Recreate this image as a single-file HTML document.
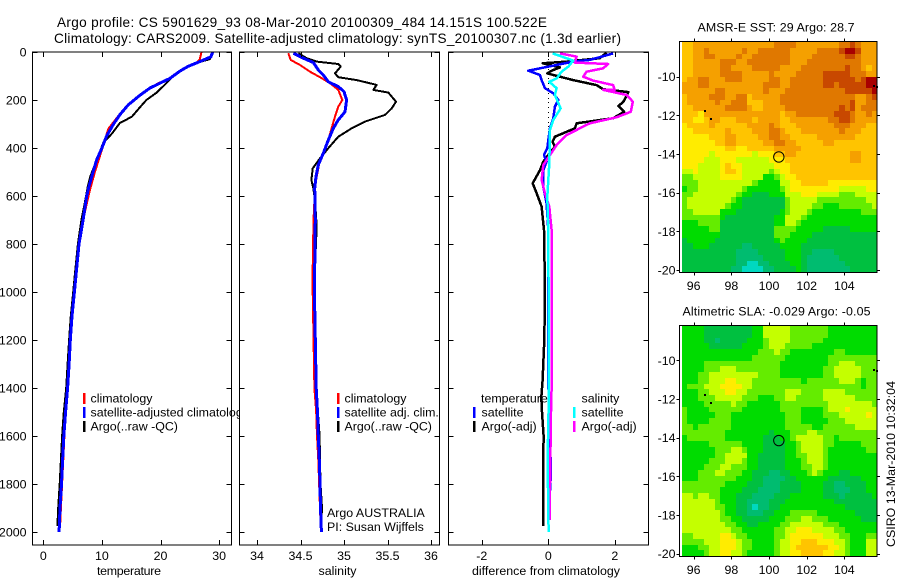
<!DOCTYPE html>
<html>
<head>
<meta charset="utf-8">
<title>Argo profile</title>
<style>
html,body{margin:0;padding:0;background:#fff;width:900px;height:580px;overflow:hidden}
svg{display:block;font-family:"Liberation Sans",sans-serif;fill:#000}
text{font-size:12.4px}
.t{font-size:13.6px}
</style>
</head>
<body>
<svg id="chart" xmlns="http://www.w3.org/2000/svg" width="900" height="580" viewBox="0 0 900 580">
<rect width="900" height="580" fill="#fff"/>
<text class="t" x="57" y="27" textLength="490" lengthAdjust="spacing">Argo profile: CS 5901629_93 08-Mar-2010 20100309_484 14.151S 100.522E</text>
<text class="t" x="54" y="43" textLength="567" lengthAdjust="spacing">Climatology: CARS2009. Satellite-adjusted climatology: synTS_20100307.nc (1.3d earlier)</text>
<g id="layer"></g>
<text x="697.5" y="31.5" textLength="157" lengthAdjust="spacing">AMSR-E SST: 29 Argo: 28.7</text>
<text x="682.5" y="315.5" textLength="188" lengthAdjust="spacing">Altimetric SLA: -0.029 Argo: -0.05</text>
<text transform="translate(895,547) rotate(-90)" textLength="166" lengthAdjust="spacing">CSIRO 13-Mar-2010 10:32:04</text>
</svg>
<script>
// ---- profile data (depth in dbar) ----
const tempTicks = [0, 10, 20, 30];
const salTicks = [34, 34.5, 35, 35.5, 36];
const salTickLabels = ['34', '34.5', '35', '35.5', '36'];
const diffTicks = [-2, 0, 2];
const depthTicks = [0, 200, 400, 600, 800, 1000, 1200, 1400, 1600, 1800, 2000];

const tempClimDepth = [0, 30, 45, 60, 110, 130, 170, 210, 260, 320, 400, 500, 580, 700, 800, 900, 1000, 1200, 1400, 1600, 1800, 1900, 1960];
const tempClimValue = [27, 26.7, 26.2, 24.6, 21.6, 19.6, 17, 15, 13, 11.1, 10.1, 8.8, 7.9, 6.8, 6.1, 5.7, 5.3, 4.6, 4.1, 3.6, 3.2, 3, 2.9];
const tempSatDepth = [0, 20, 40, 60, 80, 110, 130, 150, 180, 220, 260, 300, 350, 400, 450, 500, 560, 600, 700, 800, 900, 1000, 1100, 1200, 1300, 1400, 1500, 1600, 1700, 1800, 1900, 2000];
const tempSatValue = [28.9, 28.6, 26.7, 24.7, 23.3, 21.6, 19.9, 18.2, 16.5, 14.5, 13.1, 12, 10.8, 10, 9.1, 8.5, 7.8, 7.4, 6.8, 6.1, 5.7, 5.3, 4.9, 4.6, 4.4, 4.15, 3.8, 3.5, 3.3, 3.1, 2.85, 2.7];
const tempArgoDepth = [0, 30, 45, 70, 100, 130, 170, 200, 230, 270, 295, 340, 380, 450, 520, 560, 600, 700, 800, 900, 1000, 1100, 1200, 1300, 1400, 1500, 1600, 1700, 1800, 1900, 1975];
const tempArgoValue = [29, 28.4, 26.2, 23.9, 22.2, 21, 19.3, 17.6, 16.5, 15.1, 13.1, 11.7, 10.2, 9.1, 8, 7.6, 7.3, 6.5, 5.9, 5.5, 5.1, 4.7, 4.4, 4.15, 3.9, 3.5, 3.2, 3, 2.8, 2.55, 2.4];

const salClimDepth = [5, 33, 54, 82, 105, 130, 158, 200, 228, 269, 318, 367, 422, 464, 519, 568, 700, 900, 1000, 1400, 1500, 1600, 1700, 1960];
const salClimValue = [34.36, 34.387, 34.494, 34.609, 34.724, 34.839, 34.935, 34.981, 34.935, 34.897, 34.858, 34.82, 34.762, 34.716, 34.686, 34.667, 34.65, 34.64, 34.64, 34.66, 34.68, 34.69, 34.705, 34.73];
const salSatDepth = [5, 26, 44, 75, 96, 124, 144, 165, 200, 249, 283, 318, 367, 422, 471, 519, 568, 700, 1000, 1400, 1500, 1600, 1700, 1800, 1900, 2000];
const salSatValue = [34.418, 34.533, 34.648, 34.705, 34.762, 34.82, 34.935, 35, 35.03, 35.011, 34.935, 34.877, 34.82, 34.762, 34.705, 34.678, 34.663, 34.67, 34.66, 34.68, 34.695, 34.705, 34.716, 34.724, 34.73, 34.74];
const salArgoDepth = [5, 26, 40, 50, 61, 89, 105, 117, 137, 158, 169, 207, 235, 262, 290, 318, 353, 401, 443, 485, 533, 568, 615, 726, 1000, 1400, 1500, 1600, 1700, 1800, 1900, 1950];
const salArgoValue = [34.475, 34.571, 34.686, 34.935, 34.962, 34.897, 34.935, 35.146, 35.376, 35.337, 35.51, 35.598, 35.548, 35.471, 35.241, 35.088, 34.935, 34.82, 34.724, 34.64, 34.625, 34.647, 34.667, 34.686, 34.655, 34.68, 34.7, 34.72, 34.724, 34.73, 34.747, 34.74];

const diffTempArgoDepth = [3, 26, 40, 47, 64, 78, 89, 96, 117, 138, 155, 167, 207, 225, 249, 276, 297, 318, 353, 374, 394, 429, 457, 492, 547, 589, 644, 742, 1000, 1200, 1367, 1440, 1500, 1600, 1700, 1800, 1975];
const diffTempArgoValue = [1.75, 1.55, 0.55, -0.17, 0.35, 0.1, -0.03, 0.15, 0.75, 1.45, 1.65, 2.41, 2.26, 2.11, 2.28, 1.95, 0.85, 0.8, 0.2, 0.13, 0.2, 0, -0.15, -0.25, -0.47, -0.35, -0.2, -0.13, -0.1, -0.12, -0.17, -0.21, -0.19, -0.14, -0.15, -0.15, -0.15];
const diffTempSatDepth = [6, 33, 40, 78, 96, 117, 151, 172, 200, 228, 276, 318, 367, 401, 429, 457, 492, 561, 631, 742, 1367, 1500, 1750, 1960];
const diffTempSatValue = [1.95, 1.25, 0.75, -0.6, -0.25, -0.2, -0.1, 0.15, 0.3, 0.2, 0.15, 0.05, 0, -0.03, -0.13, -0.05, -0.15, -0.15, -0.05, 0, 0, 0.02, 0.08, 0];
const diffSalSatDepth = [6, 36, 61, 82, 110, 124, 151, 179, 235, 283, 325, 464, 603, 742, 1400, 1700, 1900, 2000];
const diffSalSatValue = [0.13, 0.75, 0.6, 0.4, 0.25, 0.03, 0.25, 0.2, 0.37, 0.15, 0.05, 0.03, -0.03, 0, 0.02, -0.02, 0, 0.01];
const diffSalArgoDepth = [6, 19, 44, 50, 68, 82, 103, 119, 138, 158, 158, 179, 207, 249, 272, 297, 311, 346, 388, 429, 471, 533, 589, 644, 742, 1000, 1400, 1500, 1800, 1950];
const diffSalArgoValue = [0.35, 0.85, 0.8, 1.8, 1.65, 1.15, 1.05, 1.35, 1.95, 2, 1.65, 2.36, 2.54, 2.48, 2.05, 1.25, 1.05, 0.55, 0.25, 0.05, -0.15, -0.2, -0.1, 0.03, 0.1, 0.1, 0.1, 0.08, 0.05, 0.05];
const zeroDotDepths = [10, 30, 50, 70, 90, 110, 130, 150, 170, 190, 210, 230, 250, 270, 290, 310, 330, 350, 2030];

// ---- map data (colour-scale levels 0..11) ----
const mapLonTicks = [96, 98, 100, 102, 104];
const mapLatTicks = [10, 12, 14, 16, 18, 20];
const sstLevels = [
[7,7,8,8,8,8,8,8,8,8,8,8,8,8,8,8,8,9,9,9,9,8,8,8,8,8,8,8,8,9,9,10,9,8,8,8],
[7,7,8,8,9,8,8,8,8,8,8,9,8,8,9,9,9,9,9,9,8,8,8,8,8,9,9,9,9,10,11,11,10,8,8,8],
[7,7,8,8,9,9,8,8,8,8,9,8,8,9,9,9,9,9,9,9,8,8,8,8,9,9,9,9,9,9,10,10,9,8,8,8],
[7,7,8,8,8,8,8,9,9,9,8,8,9,9,9,9,9,9,9,9,8,8,8,9,9,9,9,9,9,9,9,9,9,8,8,8],
[7,7,8,8,8,8,8,9,9,8,8,8,8,9,9,9,9,9,8,8,8,8,9,9,9,9,9,9,9,9,10,9,9,8,7,8],
[7,7,8,8,8,8,8,9,9,9,9,8,8,8,8,8,9,8,8,8,8,9,9,9,9,9,10,10,10,10,10,9,9,9,8,8],
[7,8,8,9,9,8,8,8,9,9,9,8,8,8,8,8,9,9,8,8,9,9,9,9,9,9,10,10,10,10,10,10,9,10,11,11],
[8,8,8,9,9,8,8,8,8,8,8,8,8,8,8,9,9,9,8,8,9,9,9,9,9,9,10,10,9,10,10,10,10,10,11,11],
[8,8,8,8,8,8,9,9,8,8,8,8,8,8,8,9,8,8,8,9,9,9,9,9,9,9,9,9,9,9,10,10,10,10,10,11],
[7,8,8,8,8,9,9,9,8,8,9,9,7,8,8,8,8,8,9,9,9,9,9,9,9,9,9,9,9,9,9,9,8,8,9,10],
[7,8,8,8,8,8,9,8,8,9,9,9,7,7,7,8,8,8,9,9,9,9,9,9,9,9,9,9,9,9,9,10,8,8,9,9],
[7,7,8,8,8,8,8,8,9,9,9,9,8,7,7,8,8,8,8,9,9,9,9,9,9,9,9,9,9,10,9,10,8,9,9,9],
[7,7,7,6,8,8,8,8,8,8,8,8,8,8,8,8,8,8,7,8,8,9,9,9,9,9,9,9,10,10,10,9,8,8,9,8],
[7,7,6,6,7,8,8,7,7,7,8,8,8,7,8,8,8,8,7,7,8,8,8,8,8,8,8,9,9,10,10,9,8,8,8,8],
[6,7,7,7,7,8,7,7,7,7,7,7,8,8,8,8,9,8,7,7,7,8,8,8,8,8,8,8,9,9,9,8,8,8,7,7],
[6,6,7,7,7,7,7,7,8,7,7,7,7,8,8,8,9,9,8,7,7,7,8,8,8,8,8,8,8,9,8,8,8,7,7,7],
[6,6,6,6,6,7,7,7,8,8,7,7,7,7,8,8,9,9,8,8,7,7,7,7,7,8,8,8,8,8,8,8,7,7,7,7],
[6,6,6,6,6,6,7,7,8,8,7,7,7,7,7,8,8,9,9,8,8,7,7,7,7,7,8,8,7,7,7,7,7,7,7,7],
[6,6,6,6,6,6,6,6,7,7,6,6,7,7,7,7,7,8,8,8,8,8,7,7,7,7,7,7,7,7,7,7,7,7,7,7],
[6,6,6,6,6,5,6,6,6,6,6,6,6,5,6,6,6,7,7,8,8,7,7,7,7,7,7,7,7,7,7,8,8,7,7,7],
[6,6,6,6,5,5,5,6,6,6,5,5,5,5,5,5,6,6,6,7,7,7,7,7,7,7,7,7,7,7,7,8,8,7,7,7],
[6,6,6,5,5,5,5,6,7,6,6,5,5,5,5,5,5,6,6,6,7,7,7,7,7,7,7,7,7,7,7,7,7,7,7,7],
[5,5,6,5,5,5,5,6,7,7,6,5,5,5,5,5,4,5,6,6,7,7,7,7,7,7,7,7,7,7,7,7,7,7,7,7],
[4,4,5,5,5,5,5,6,6,6,6,5,5,5,5,3,3,4,5,6,6,7,7,7,7,7,7,7,7,7,7,7,7,7,7,7],
[4,4,4,5,5,5,5,5,5,5,5,5,5,4,3,3,3,3,5,5,6,6,7,7,7,7,7,6,6,6,6,6,6,6,6,6],
[3,4,4,5,5,5,5,5,5,5,5,4,3,3,3,3,3,3,4,5,6,6,6,6,6,6,6,6,6,5,5,5,5,5,6,6],
[4,4,5,5,5,5,5,5,5,5,4,3,3,2,2,2,3,3,3,5,5,5,6,6,6,5,5,5,5,4,4,4,5,5,5,5],
[4,5,5,5,5,5,5,5,5,4,3,2,2,2,2,2,2,2,2,4,5,5,5,5,5,4,4,4,4,4,4,4,4,4,5,5],
[4,5,5,5,5,5,5,5,4,3,3,2,2,2,2,2,2,2,2,4,5,5,5,5,4,4,3,3,3,4,4,4,4,4,4,5],
[4,4,5,5,5,5,5,3,3,3,2,2,2,2,2,2,2,2,3,4,5,5,5,4,3,3,3,3,3,3,3,3,3,4,4,4],
[4,4,4,4,4,4,4,3,2,2,2,2,2,2,2,2,2,3,3,5,5,5,4,3,3,3,3,3,3,3,3,3,3,3,3,3],
[3,3,3,4,4,4,4,2,2,2,2,2,2,2,2,2,2,3,3,5,5,4,3,3,3,3,3,3,3,3,3,3,3,3,3,3],
[3,3,3,3,3,4,4,2,2,2,2,2,2,2,2,2,2,4,4,4,4,3,3,3,3,3,2,2,2,2,2,3,3,3,3,3],
[3,3,3,3,3,3,3,2,2,2,2,2,2,2,2,2,2,4,4,4,3,3,3,3,2,2,2,2,2,2,2,2,2,2,2,2],
[2,3,3,3,3,3,2,2,2,2,2,2,2,2,2,2,2,3,4,3,3,3,3,2,2,2,2,2,2,2,2,2,2,2,2,2],
[2,2,3,3,3,2,2,2,2,2,2,1,1,2,2,2,2,2,3,3,3,3,2,2,2,2,2,2,2,2,2,2,2,2,2,2],
[2,2,2,2,2,2,2,2,2,2,1,1,1,1,2,2,2,2,2,3,3,3,2,2,1,1,1,1,2,2,2,2,2,2,2,2],
[2,2,2,2,2,2,2,2,2,2,1,1,1,1,1,2,2,2,2,3,3,3,2,1,1,1,1,1,1,2,2,2,2,2,2,2],
[2,2,2,2,2,2,2,2,2,2,1,1,0,0,1,1,2,2,2,2,3,3,2,1,1,1,1,1,1,1,2,2,2,2,2,2],
[2,2,2,2,2,2,2,2,2,1,1,0,0,0,0,1,1,2,2,2,2,3,2,1,1,1,1,1,1,1,1,2,2,2,2,2]
];
const slaLevels = [
[3,3,3,3,2,2,2,2,2,2,2,2,2,3,3,5,5,5,5,5,4,4,4,4,4,4,4,3,3,3,3,3,3,3,3,3],
[3,3,3,3,2,2,2,2,2,2,2,2,2,3,3,5,5,5,5,5,4,4,4,4,4,4,4,3,3,3,3,3,3,3,3,3],
[3,3,3,3,2,2,1,2,2,2,2,2,3,3,3,4,5,5,5,5,4,4,4,4,4,4,3,3,3,3,3,3,3,3,3,3],
[3,3,3,3,3,2,2,2,2,2,2,3,3,3,3,4,5,5,5,4,4,4,4,4,3,3,3,3,3,3,3,3,3,3,3,3],
[3,3,3,3,3,3,3,3,3,3,3,3,3,3,4,4,4,5,4,4,3,3,3,3,3,3,3,3,4,4,3,3,3,3,3,3],
[3,3,3,3,3,3,3,3,3,3,3,3,3,4,4,4,4,4,4,3,3,3,3,3,3,3,3,4,4,4,4,4,4,4,4,4],
[3,3,3,3,4,4,4,4,4,4,4,4,4,4,4,4,4,4,3,3,3,3,3,3,3,3,3,4,4,5,5,5,4,4,4,4],
[3,3,3,3,4,4,4,5,5,5,4,4,4,4,4,4,4,4,3,3,3,3,3,3,3,3,4,4,5,5,5,5,5,4,4,4],
[3,3,3,4,4,5,5,5,5,5,5,5,5,5,4,4,4,4,3,3,3,3,3,3,3,3,4,4,5,5,5,5,5,4,4,4],
[3,3,3,4,4,5,5,5,6,6,5,5,5,4,4,4,4,4,4,4,4,4,3,4,4,4,4,4,4,5,5,5,4,3,4,4],
[3,4,4,4,5,5,5,6,6,6,6,5,5,4,4,4,4,4,4,4,4,4,4,4,4,4,4,4,4,4,4,4,4,3,4,4],
[3,3,3,4,4,5,5,5,6,6,5,5,4,4,4,4,4,4,4,5,5,5,4,4,4,4,5,5,5,5,4,4,4,4,4,4],
[3,3,3,4,4,4,5,5,5,5,5,4,4,4,3,3,3,4,4,5,5,4,4,4,4,4,5,5,5,5,5,5,4,4,4,4],
[3,3,3,3,4,4,4,4,4,5,4,4,3,3,3,3,3,3,4,4,4,4,4,4,4,4,4,5,5,5,5,5,5,5,5,4],
[4,3,3,3,3,4,4,4,4,4,4,3,3,3,3,3,3,3,4,4,4,4,3,3,3,3,4,5,5,5,6,5,5,5,5,5],
[4,3,3,3,3,3,4,4,4,3,3,3,3,3,3,3,3,3,3,4,4,4,3,3,3,3,4,4,4,5,5,5,5,5,6,5],
[4,3,3,3,3,4,4,4,4,3,3,3,3,3,3,3,3,3,3,4,4,4,3,3,3,3,3,4,4,4,5,5,5,5,5,5],
[4,4,3,4,4,4,4,4,4,3,3,3,3,3,3,3,3,3,3,4,4,4,4,4,3,3,4,4,4,4,4,4,5,5,5,5],
[4,4,4,4,4,4,4,4,3,3,3,3,3,3,3,3,2,3,3,3,4,4,4,5,5,4,4,4,4,4,4,4,4,4,4,4],
[3,4,4,4,4,4,4,4,3,3,3,3,3,3,3,2,2,2,3,3,4,5,5,5,5,5,4,4,3,4,4,4,4,4,4,4],
[3,3,3,3,3,4,4,4,4,4,4,3,3,3,3,2,2,2,2,3,3,4,5,5,5,5,4,4,3,3,3,3,3,4,4,4],
[3,3,3,3,3,3,4,4,4,5,5,4,3,3,3,2,2,2,2,3,3,4,5,5,5,5,4,3,3,3,3,3,3,3,4,4],
[3,3,3,3,3,3,4,4,5,5,5,5,3,3,2,2,2,2,2,3,3,4,4,5,5,5,4,3,3,3,3,3,3,3,3,3],
[3,3,3,3,3,4,4,4,5,5,5,4,3,3,2,2,2,2,2,3,3,3,4,5,5,5,4,3,3,3,3,3,3,3,3,3],
[3,3,3,3,4,4,4,5,5,4,4,4,3,3,2,2,2,2,2,3,3,3,4,4,5,5,4,3,3,3,3,3,3,3,3,3],
[3,3,3,4,4,4,5,5,4,4,4,3,3,2,2,2,1,1,2,2,3,3,3,4,5,4,3,3,3,2,2,3,3,3,3,3],
[3,3,3,4,4,4,4,4,4,4,3,3,3,2,2,1,1,1,1,2,2,3,3,3,3,3,3,2,2,2,2,2,2,3,3,3],
[4,4,4,4,4,4,4,4,3,3,3,3,2,2,2,1,1,1,2,2,2,2,3,3,3,3,2,2,1,1,2,2,2,2,3,3],
[4,4,4,4,4,4,4,3,3,3,3,2,2,2,1,1,1,1,2,2,2,2,3,3,3,3,2,2,1,1,1,2,2,2,3,3],
[5,5,4,5,5,4,4,3,3,3,2,2,2,1,1,1,1,2,2,2,3,3,3,3,3,3,2,2,2,1,2,2,2,2,2,3],
[5,5,5,5,5,5,4,3,3,3,2,2,1,1,1,1,2,2,2,3,3,3,3,3,3,3,3,3,2,2,2,2,2,2,2,2],
[5,5,5,5,5,5,4,4,3,3,2,2,1,0,1,1,2,2,3,3,3,3,3,3,3,3,3,3,3,3,2,2,2,2,2,2],
[5,5,5,5,5,5,5,4,3,3,2,2,1,1,1,2,2,3,3,3,4,4,4,4,4,3,3,3,3,3,3,3,2,2,2,2],
[5,5,5,5,5,5,5,4,4,3,3,2,2,2,2,2,3,3,3,4,4,4,5,5,4,4,4,3,3,3,3,3,3,2,2,2],
[5,5,5,5,5,5,5,5,4,4,3,3,2,2,3,3,3,3,4,4,5,5,5,5,5,5,4,4,4,3,3,3,3,3,3,3],
[5,5,5,5,5,5,5,5,5,4,4,3,3,3,3,3,3,4,4,5,5,6,6,6,5,5,5,5,4,4,3,3,3,3,3,3],
[4,4,5,5,5,5,5,6,6,5,4,4,3,3,3,3,3,4,4,5,6,6,6,6,6,6,5,5,5,4,4,3,3,3,4,4],
[4,4,4,4,5,5,5,6,6,6,5,4,4,3,3,3,3,4,5,5,6,6,7,7,7,6,6,6,5,5,4,3,3,3,5,5],
[3,3,3,4,4,5,5,6,6,6,5,4,4,3,3,3,3,4,5,5,6,7,7,7,7,7,7,6,6,5,4,3,3,3,5,5],
[3,3,3,3,4,5,5,6,6,5,5,4,3,3,3,3,3,4,5,5,6,6,7,7,7,7,6,6,5,5,4,3,3,3,5,5]
];
const levelColors = ['#00d8c0','#00bc70','#00c040','#00dc00','#64ec00','#c4ff00','#ffec00','#ffc400','#f5a000','#e07800','#c84800','#a80000'];
const islandLons = [96.6, 96.9, 105.6, 105.75];
const islandLats = [11.8, 12.2, 10.5, 10.55];
const floatLon = 100.522;
const floatLat = 14.151;

// ---- drawing helpers ----
const NS = 'http://www.w3.org/2000/svg';
const layer = document.getElementById('layer');
function mk(tag, attrs, parent) {
  const e = document.createElementNS(NS, tag);
  for (const k in attrs) e.setAttribute(k, attrs[k]);
  (parent || layer).appendChild(e);
  return e;
}
function label(x, y, str, anchor, parent) {
  const e = mk('text', {x: x, y: y, 'text-anchor': anchor || 'start'}, parent);
  e.textContent = str;
  return e;
}
const depthY = d => 52 + d * 0.24;
const tempX = v => 43.3 + v * 5.86;
const salX = v => 257 + (v - 34) * 87;
const diffX = v => 548.3 + v * 33.25;

function profile(xf, depths, values, color, width, name) {
  const pts = depths.map((d, i) => xf(values[i]).toFixed(1) + ',' + depthY(d).toFixed(1)).join(' ');
  const p = mk('polyline', {points: pts, fill: 'none', stroke: color, 'stroke-width': width, 'shape-rendering': 'crispEdges', 'stroke-linejoin': 'round'});
  
  
}
function panel(x0, x1, name) {
  const r = mk('rect', {x: x0 + .5, y: 52, width: x1 - x0, height: 493, fill: '#fff', stroke: 'none'});
  
  
}
function frame(x0, x1, ticks, xf, tickLabels, name, showDepth) {
  const b = mk('rect', {x: x0 + .5, y: 52, width: x1 - x0, height: 493, fill: 'none', stroke: '#000', 'stroke-width': 1, 'shape-rendering': 'crispEdges'});
  
  
  ticks.forEach((v, i) => {
    const x = Math.round(xf(v)) + .5;
    const t = mk('path', {d: 'M' + x + ' 545V540M' + x + ' 52V57', stroke: '#000', fill: 'none', 'shape-rendering': 'crispEdges'});
    
    
    const l = label(xf(v), 560, tickLabels[i], 'middle');
    
    
  });
  depthTicks.forEach(d => {
    const y = Math.round(depthY(d)) + .5;
    const t = mk('path', {d: 'M' + (x0 + .5) + ' ' + y + 'h5M' + (x1 + .5) + ' ' + y + 'h-5', stroke: '#000', fill: 'none', 'shape-rendering': 'crispEdges'});
    
    
    if (showDepth) {
      const l = label(26.5, depthY(d) + 4.5, String(d), 'end');
      
      
    }
  });
}
function legendEntry(barX, textX, y, color, str, name) {
  if (color) {
    const b = mk('rect', {x: barX, y: y - 9.5, width: 2.5, height: 11, fill: color});
    
    
  }
  const l = label(textX, y, str);
  
  
}
function axisTitle(x, str, width, name) {
  const l = label(x, 575, str);
  l.setAttribute('textLength', width);
  l.setAttribute('lengthAdjust', 'spacing');
  
  
}

// ---- temperature panel ----
panel(32, 231, 'temperature-panel');
profile(tempX, tempClimDepth, tempClimValue, '#f00', 2, 'temperature-climatology-line');
profile(tempX, tempArgoDepth, tempArgoValue, '#000', 2, 'temperature-argo-line');
profile(tempX, tempSatDepth, tempSatValue, '#00f', 3, 'temperature-satellite-line');
frame(32, 231, tempTicks, tempX, tempTicks.map(String), 'temperature-panel', true);
legendEntry(83, 90.5, 402.5, '#f00', 'climatology', 'legend-climatology');
legendEntry(83, 90.5, 416.5, '#00f', 'satellite-adjusted climatology', 'legend-satellite-adjusted');
legendEntry(83, 90.5, 430.5, '#000', 'Argo(..raw -QC)', 'legend-argo');
axisTitle(97, 'temperature', 64, 'temperature-axis-title');

// ---- salinity panel ----
panel(239, 439, 'salinity-panel');
profile(salX, salClimDepth, salClimValue, '#f00', 2, 'salinity-climatology-line');
profile(salX, salArgoDepth, salArgoValue, '#000', 2, 'salinity-argo-line');
profile(salX, salSatDepth, salSatValue, '#00f', 3, 'salinity-satellite-line');
frame(239, 439, salTicks, salX, salTickLabels, 'salinity-panel', false);
legendEntry(337, 344.5, 402.5, '#f00', 'climatology', 'salinity-legend-climatology');
legendEntry(337, 344.5, 416.5, '#00f', 'satellite adj. clim.', 'salinity-legend-satellite');
legendEntry(337, 344.5, 430.5, '#000', 'Argo(..raw -QC)', 'salinity-legend-argo');
legendEntry(0, 327, 517, null, 'Argo AUSTRALIA', 'argo-program-note');
legendEntry(0, 327, 531, null, 'PI: Susan Wijffels', 'principal-investigator-note');
axisTitle(318.5, 'salinity', 38, 'salinity-axis-title');

// ---- difference panel ----
panel(448, 648, 'difference-panel');
zeroDotDepths.forEach(d => {
  const z = mk('rect', {x: Math.round(diffX(0)), y: Math.round(depthY(d)), width: 1, height: 1, fill: '#000'});
  
  
});
profile(diffX, diffTempArgoDepth, diffTempArgoValue, '#000', 2.5, 'difference-temperature-argo-line');
profile(diffX, diffTempSatDepth, diffTempSatValue, '#00f', 2.5, 'difference-temperature-satellite-line');
profile(diffX, diffSalArgoDepth, diffSalArgoValue, '#f0f', 2.5, 'difference-salinity-argo-line');
profile(diffX, diffSalSatDepth, diffSalSatValue, '#0ff', 2.5, 'difference-salinity-satellite-line');
frame(448, 648, diffTicks, diffX, diffTicks.map(String), 'difference-panel', false);
legendEntry(0, 481, 402.5, null, 'temperature', 'difference-legend-temperature-heading');
legendEntry(473, 481.5, 416.5, '#00f', 'satellite', 'difference-legend-temperature-satellite');
legendEntry(473, 481.5, 430.5, '#000', 'Argo(-adj)', 'difference-legend-temperature-argo');
legendEntry(0, 581.5, 402.5, null, 'salinity', 'difference-legend-salinity-heading');
legendEntry(573, 581.5, 416.5, '#0ff', 'satellite', 'difference-legend-salinity-satellite');
legendEntry(573, 581.5, 430.5, '#f0f', 'Argo(-adj)', 'difference-legend-salinity-argo');
axisTitle(472, 'difference from climatology', 148, 'difference-axis-title');

// ---- maps ----
function drawMap(levels, y10, top, bottom, name, labelBaseline) {
  const lonX = lon => 769 + (lon - 100) * 18.83;
  const latY = lat => y10 + (lat - 10) * 19.33;
  const left = 682, right = 877;
  const rows = levels.length, cols = levels[0].length;
  const cw = (right - left) / cols, ch = (bottom - top) / rows;
  levels.forEach((row, j) => row.forEach((lv, i) => {
    const x0 = Math.round(left + i * cw), x1 = Math.round(left + (i + 1) * cw);
    const y0 = Math.round(top + j * ch), y1 = Math.round(top + (j + 1) * ch);
    const c = mk('rect', {x: x0, y: y0, width: x1 - x0, height: y1 - y0, fill: levelColors[lv], 'shape-rendering': 'crispEdges'});
    
    
  }));
  const f = mk('rect', {x: 679.5, y: top - .5, width: 197.5, height: bottom - top + 1, fill: 'none', stroke: '#000', 'shape-rendering': 'crispEdges'});
  
  
  mapLonTicks.forEach(lon => {
    const x = Math.round(lonX(lon)) + .5;
    const t = mk('path', {d: 'M' + x + ' ' + (top - .5) + 'v-3M' + x + ' ' + (bottom + .5) + 'v3', stroke: '#000', fill: 'none', 'shape-rendering': 'crispEdges'});
    
    
    const l = label(lonX(lon), labelBaseline, String(lon), 'middle');
    
    
  });
  mapLatTicks.forEach(lat => {
    const y = Math.round(latY(lat)) + .5;
    const t = mk('path', {d: 'M679.5 ' + y + 'h-3M877 ' + y + 'h3', stroke: '#000', fill: 'none', 'shape-rendering': 'crispEdges'});
    
    
    const l = label(675.5, latY(lat) + 4.5, '-' + lat, 'end');
    
    
  });
  islandLons.forEach((lon, i) => {
    const s = mk('rect', {x: Math.round(lonX(lon)) - 1, y: Math.round(latY(islandLats[i])) - 1, width: 2, height: 2, fill: '#000'});
    
    
  });
  const m = mk('circle', {cx: lonX(floatLon), cy: latY(floatLat), r: 5.2, fill: 'none', stroke: '#000', 'stroke-width': 1});
  
  
}
drawMap(sstLevels, 76.7, 42, 272, 'sst-map', 290);
drawMap(slaLevels, 360.3, 326, 556, 'sla-map', 574);
</script>
</body>
</html>
